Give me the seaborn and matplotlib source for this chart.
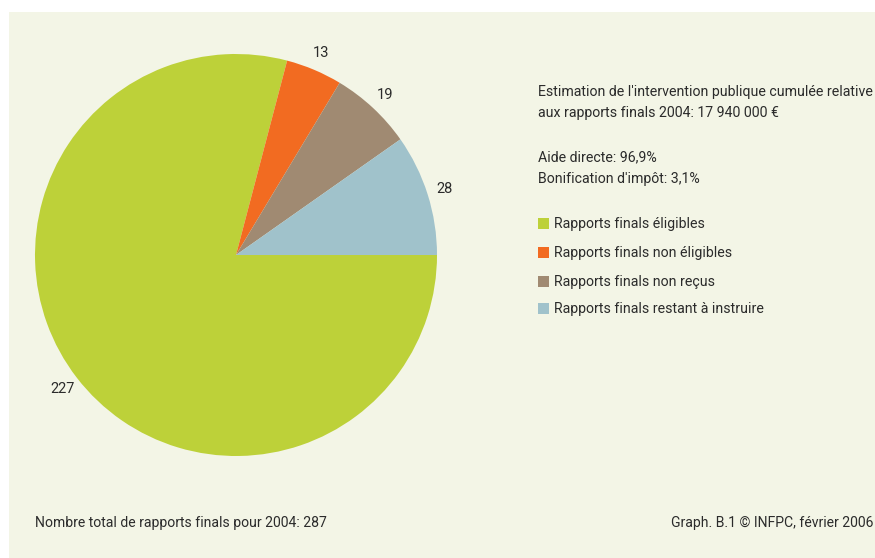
import matplotlib
matplotlib.use("Agg")
import matplotlib.pyplot as plt
from matplotlib.patches import Rectangle
import seaborn as sns

# Final reports 2004, by status
categories = [
    "Rapports finals éligibles",
    "Rapports finals non éligibles",
    "Rapports finals non reçus",
    "Rapports finals restant à instruire",
]
counts = [227, 13, 19, 28]
colors = ["#bdd139", "#f26b21", "#a08a72", "#a0c2cb"]

info_lines = [
    "Estimation de l'intervention publique cumulée relative",
    "aux rapports finals 2004: 17 940 000 €",
]
split_lines = ["Aide directe: 96,9%", "Bonification d'impôt: 3,1%"]
footer_left = "Nombre total de rapports finals pour 2004: 287"
footer_right = "Graph. B.1 © INFPC, février 2006"

sns.set_theme(style="white")
plt.rcParams["font.family"] = ["Roboto", "DejaVu Sans"]
TXT = "#2b2b2b"
BG = "#f3f5e6"

W, H = 875, 558
fig = plt.figure(figsize=(W / 100, H / 100), dpi=100, facecolor="white")

def fx(px):
    return px / W

def fy(py):
    return 1 - py / H

# cream panel behind everything
fig.patches.append(Rectangle((fx(9), 0), 1 - fx(9), fy(12), transform=fig.transFigure,
                             facecolor=BG, edgecolor="none", zorder=-5))

# pie axes: centre (236, 255), radius 201 px
cx, cy, r = 236, 255, 201
ax = fig.add_axes([fx(cx - r), fy(cy + r), 2 * r / W, 2 * r / H])
ax.set_zorder(2)
ax.set_facecolor("none")
palette = sns.color_palette(colors)
wedges, label_texts = ax.pie(
    counts,
    colors=palette,
    labels=[str(c) for c in counts],
    labeldistance=1.09,
    startangle=0,
    counterclock=False,
    radius=1,
    textprops=dict(fontsize=10.5, color=TXT, ha="center", va="center"),
    wedgeprops=dict(linewidth=0),
)
for t in label_texts:
    t.set_horizontalalignment("center")
ax.set_xlim(-1, 1)
ax.set_ylim(-1, 1)
ax.set_aspect("auto")
ax.axis("off")

fs = 10.15
x0 = 538
for text, y in zip(info_lines, [92, 113]):
    fig.text(fx(x0), fy(y), text, fontsize=fs, color=TXT, va="center", ha="left")
for text, y in zip(split_lines, [157, 179]):
    fig.text(fx(x0), fy(y), text, fontsize=fs, color=TXT, va="center", ha="left")

# legend
for col, lab, y in zip(colors, categories, [224, 253, 282, 309]):
    fig.patches.append(Rectangle((fx(538), fy(y + 5)), 11 / W, 11 / H,
                                 transform=fig.transFigure, facecolor=col,
                                 edgecolor="none", zorder=1))
    fig.text(fx(554), fy(y), lab, fontsize=fs, color=TXT, va="center", ha="left")

fig.text(fx(35), fy(523), footer_left, fontsize=10.1, color=TXT, va="center", ha="left")
fig.text(fx(873), fy(523), footer_right, fontsize=10.1, color=TXT, va="center", ha="right")

fig.savefig("out.png", dpi=100, facecolor="white")
